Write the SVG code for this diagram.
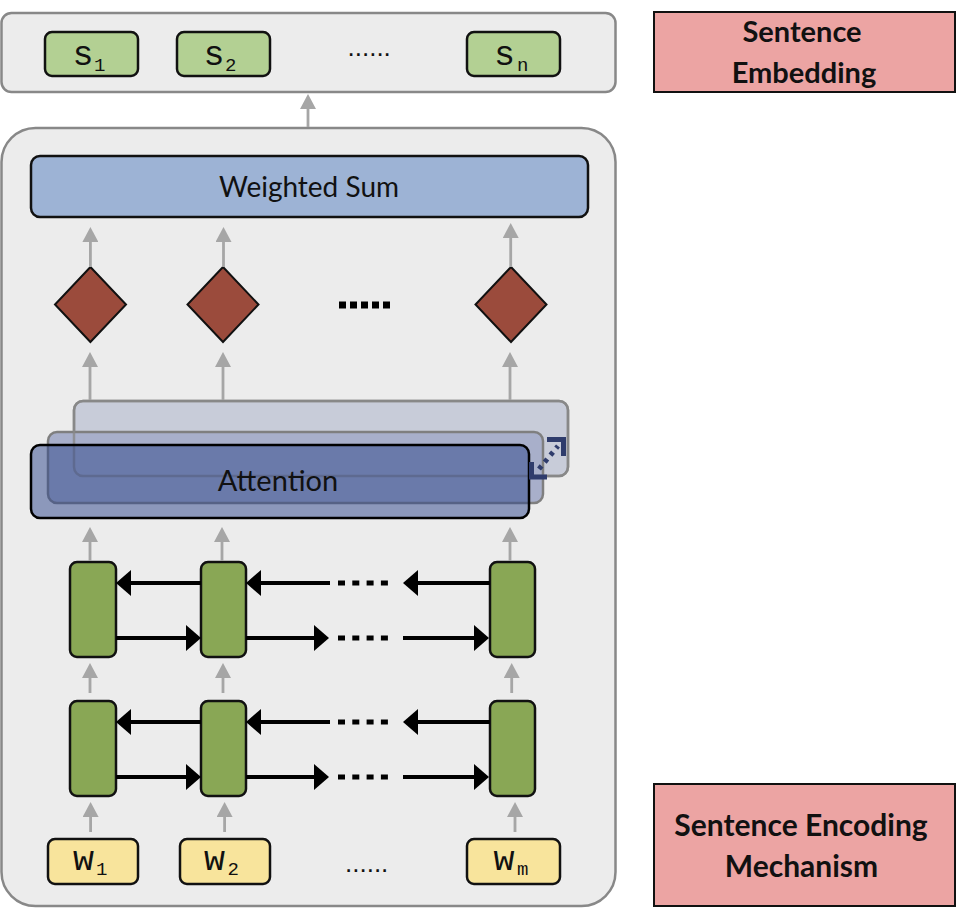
<svg xmlns="http://www.w3.org/2000/svg" width="961" height="908" viewBox="0 0 961 908">
<style>
.frame{fill:#ececec;stroke:#888;stroke-width:2.5}
.sbox{fill:#b3d093;stroke:#111;stroke-width:2.5}
.wbox{fill:#f8e49c;stroke:#111;stroke-width:2.5}
.lstm{fill:#89a755;stroke:#111;stroke-width:2.5}
.dia{fill:#9b4b3c;stroke:#111;stroke-width:2}
.label{fill:#eca4a3;stroke:#111;stroke-width:2}
.mono{font-family:"Liberation Mono","DejaVu Sans Mono",monospace;font-size:35px;fill:#111}
.sub{font-size:19px}
.sans{font-family:Lato,"Open Sans","Liberation Sans",sans-serif;fill:#111}
.bold{font-weight:bold}
.dots{font-family:"Liberation Sans",Arial,sans-serif;font-size:26px;fill:#111}
.gray{stroke:#a6a6a6;stroke-width:2.8;fill:none}
.blk{stroke:#000;stroke-width:4;fill:none}
.sq{stroke:#000;fill:none}
</style>
<defs>
<marker id="ga" viewBox="0 0 15 16" markerWidth="15" markerHeight="16" markerUnits="userSpaceOnUse" refX="1" refY="8" orient="auto"><path d="M0,0 L15,8 L0,16 Z" fill="#a6a6a6"/></marker>
<marker id="ba" viewBox="0 0 15 26" markerWidth="15" markerHeight="26" markerUnits="userSpaceOnUse" refX="1" refY="13" orient="auto"><path d="M0,0 L15,13 L0,26 Z" fill="#000"/></marker>
</defs>
<rect width="961" height="908" fill="#fff"/>

<g id="sentence-frame">
<rect class="frame" x="1.5" y="13" width="614" height="79" rx="10"/>
</g>
<g id="encoder-frame">
<rect class="frame" x="1.5" y="128" width="614" height="778" rx="34"/>
</g>

<g id="s1"><rect class="sbox" x="45" y="32" width="93" height="44" rx="7"/><text class="mono" x="72.5" y="65">s</text><text class="mono sub" x="94" y="70.5">1</text></g>
<g id="s2"><rect class="sbox" x="177" y="32" width="93" height="44" rx="7"/><text class="mono" x="203.5" y="65">s</text><text class="mono sub" x="225" y="70.5">2</text></g>
<text class="dots" x="347.5" y="55.5">......</text>
<g id="sn"><rect class="sbox" x="467" y="32" width="93" height="44" rx="7"/><text class="mono" x="494" y="65">s</text><text class="mono sub" x="517" y="70.5">n</text></g>

<g id="label-embedding">
<rect class="label" x="654" y="12" width="301" height="80"/>
<text class="sans bold" x="802" y="42" font-size="29" text-anchor="middle">Sentence</text>
<text class="sans bold" x="804" y="83" font-size="29" text-anchor="middle">Embedding</text>
</g>
<g id="label-encoding">
<rect class="label" x="654" y="784" width="301" height="122"/>
<text class="sans bold" x="801" y="836" font-size="30" text-anchor="middle">Sentence Encoding</text>
<text class="sans bold" x="801.5" y="877" font-size="30" text-anchor="middle">Mechanism</text>
</g>

<g id="weighted-sum">
<rect x="31" y="156" width="557" height="61" rx="9" fill="#9db3d5" stroke="#111" stroke-width="2.5"/>
<text class="sans" x="309" y="197" font-size="28" text-anchor="middle">Weighted Sum</text>
</g>

<g id="alpha1"><polygon class="dia" points="90.4,267 126,304.5 90.4,342 55,304.5"/></g>
<g id="alpha2"><polygon class="dia" points="223,267 258.5,304.5 223,342 187.5,304.5"/></g>
<line class="sq" x1="339" y1="305" x2="390" y2="305" stroke-width="7" stroke-dasharray="7 4"/>
<g id="alpham"><polygon class="dia" points="511,267 546.5,304.5 511,342 475.5,304.5"/></g>

<g id="attention">
<rect x="74" y="401" width="494" height="75" rx="9" fill="#c8ccd9" stroke="#888" stroke-width="2.5"/>
<rect x="48" y="432" width="495" height="71" rx="9" fill="#a8afca" stroke="#7f7f7f" stroke-width="2.5"/>
<rect x="74" y="401" width="494" height="75" rx="9" fill="none" stroke="#888" stroke-width="2.5" stroke-opacity="0.8"/>
<rect x="31" y="445" width="498" height="73" rx="9" fill="#2f468c" fill-opacity="0.51" stroke="#000" stroke-width="2.5"/>
<text class="sans" x="278" y="491" font-size="29" text-anchor="middle">Attention</text>
<g fill="none" stroke="#2f3c6c" stroke-width="5">
<path d="M531.5,462 L531.5,477 L547,477"/>
<path d="M547,439.5 L563.5,439.5 L563.5,456"/>
<line x1="539" y1="469" x2="558" y2="446" stroke-dasharray="4 5"/>
</g>
</g>

<g id="lstm-1-1"><rect class="lstm" x="70" y="562" width="46" height="95" rx="7"/></g>
<g id="lstm-1-2"><rect class="lstm" x="201" y="562" width="45" height="95" rx="7"/></g>
<g id="lstm-1-m"><rect class="lstm" x="490" y="562" width="45" height="95" rx="7"/></g>
<g id="lstm-2-1"><rect class="lstm" x="70" y="701" width="46" height="95" rx="7"/></g>
<g id="lstm-2-2"><rect class="lstm" x="201" y="701" width="45" height="95" rx="7"/></g>
<g id="lstm-2-m"><rect class="lstm" x="490" y="701" width="45" height="95" rx="7"/></g>

<g id="w1"><rect class="wbox" x="48" y="839" width="90" height="45" rx="7"/><text class="mono" x="73" y="869.5">w</text><text class="mono sub" x="96" y="874.5">1</text></g>
<g id="w2"><rect class="wbox" x="180" y="839" width="90" height="45" rx="7"/><text class="mono" x="204" y="869.5">w</text><text class="mono sub" x="227.5" y="874.5">2</text></g>
<text class="dots" x="345" y="871.5">......</text>
<g id="wm"><rect class="wbox" x="467" y="839" width="93" height="45" rx="7"/><text class="mono" x="493.5" y="869.5">w</text><text class="mono sub" x="517" y="874.5">m</text></g>

<g id="connectors">
<line class="gray" x1="308" y1="127" x2="308" y2="108" marker-end="url(#ga)"/>
<line class="gray" x1="90.4" y1="267" x2="90.4" y2="241" marker-end="url(#ga)"/>
<line class="gray" x1="223.5" y1="267" x2="223.5" y2="241" marker-end="url(#ga)"/>
<line class="gray" x1="510.7" y1="267" x2="510.7" y2="237" marker-end="url(#ga)"/>
<line class="gray" x1="90" y1="400" x2="90" y2="366" marker-end="url(#ga)"/>
<line class="gray" x1="223" y1="400" x2="223" y2="366" marker-end="url(#ga)"/>
<line class="gray" x1="510" y1="400" x2="510" y2="366" marker-end="url(#ga)"/>
<line class="gray" x1="90" y1="561" x2="90" y2="541" marker-end="url(#ga)"/>
<line class="gray" x1="222" y1="561" x2="222" y2="541" marker-end="url(#ga)"/>
<line class="gray" x1="510" y1="561" x2="510" y2="541" marker-end="url(#ga)"/>
<line class="gray" x1="90" y1="693" x2="90" y2="677" marker-end="url(#ga)"/>
<line class="gray" x1="223" y1="693" x2="223" y2="677" marker-end="url(#ga)"/>
<line class="gray" x1="511.7" y1="693" x2="511.7" y2="677" marker-end="url(#ga)"/>
<line class="gray" x1="90.6" y1="832" x2="90.6" y2="816" marker-end="url(#ga)"/>
<line class="gray" x1="224.6" y1="832" x2="224.6" y2="816" marker-end="url(#ga)"/>
<line class="gray" x1="515" y1="832" x2="515" y2="816" marker-end="url(#ga)"/>

<line class="blk" x1="201" y1="583" x2="130" y2="583" marker-end="url(#ba)"/>
<line class="blk" x1="330" y1="583" x2="260" y2="583" marker-end="url(#ba)"/>
<line class="blk" x1="490" y1="583" x2="417" y2="583" marker-end="url(#ba)"/>
<line class="blk" x1="116" y1="638" x2="187" y2="638" marker-end="url(#ba)"/>
<line class="blk" x1="246" y1="638" x2="315" y2="638" marker-end="url(#ba)"/>
<line class="blk" x1="403" y1="638" x2="475" y2="638" marker-end="url(#ba)"/>
<line class="blk" x1="201" y1="722" x2="130" y2="722" marker-end="url(#ba)"/>
<line class="blk" x1="330" y1="722" x2="260" y2="722" marker-end="url(#ba)"/>
<line class="blk" x1="490" y1="722" x2="417" y2="722" marker-end="url(#ba)"/>
<line class="blk" x1="116" y1="777" x2="187" y2="777" marker-end="url(#ba)"/>
<line class="blk" x1="246" y1="777" x2="315" y2="777" marker-end="url(#ba)"/>
<line class="blk" x1="403" y1="777" x2="475" y2="777" marker-end="url(#ba)"/>
<g class="sq" stroke-width="5" stroke-dasharray="7 7.3">
<line x1="338" y1="583" x2="388" y2="583"/>
<line x1="338" y1="638" x2="388" y2="638"/>
<line x1="338" y1="722" x2="388" y2="722"/>
<line x1="338" y1="777" x2="388" y2="777"/>
</g>
</g>
</svg>
